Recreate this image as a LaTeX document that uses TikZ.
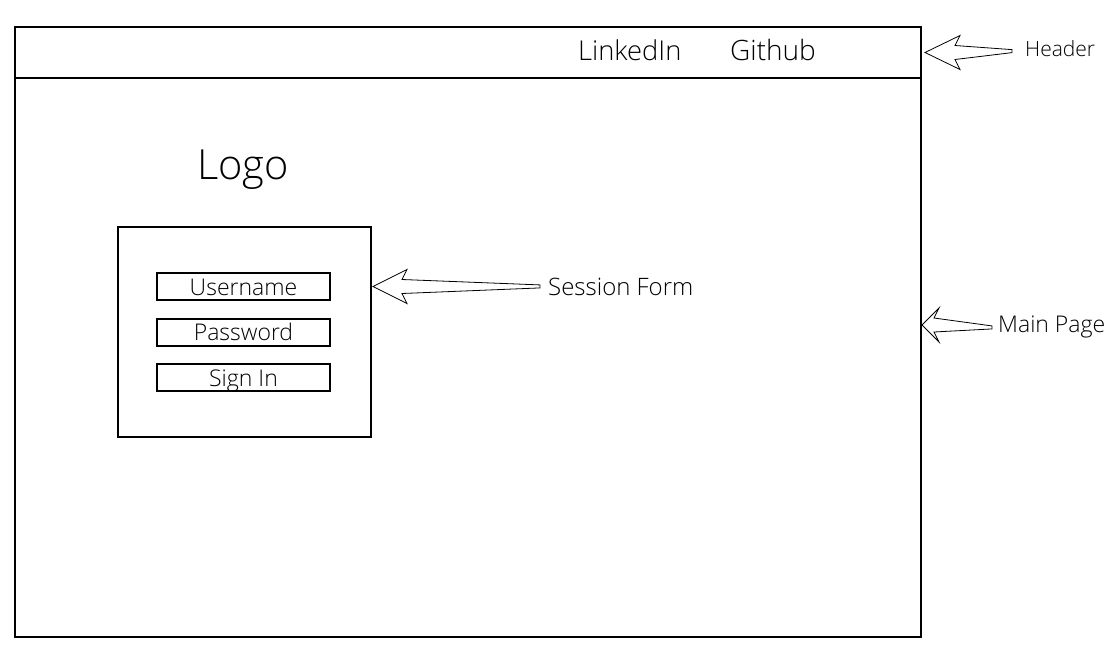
\documentclass[tikz,border=0pt]{standalone}
\usepackage{fontspec}
\setmainfont{Open Sans}[UprightFont=* Light]
\usetikzlibrary{calc}
\usetikzlibrary{positioning}

% hollow block arrow: tip, tail, head length
\newcommand{\blockarrow}[3]{%
	\draw [callout] (#1) -- ($(#1)+(#3,-17)$) -- ($(#1)+(#3-5,-7)$)
		-- ($(#2)+(0,-1.5)$) -- ($(#2)+(0,1.5)$)
		-- ($(#1)+(#3-5,7)$) -- ($(#1)+(#3,17)$) -- cycle;}

\begin{document}
\begin{tikzpicture}[
		x=1pt,y=-1pt,
		frame/.style={draw=black,line width=2pt,rectangle,inner sep=0pt},
		field/.style={frame,minimum width=173pt,minimum height=27pt,text height=17.5pt,text depth=0pt,font=\fontsize{23}{27}\selectfont},
		lbl/.style={inner sep=0pt,font=\fontsize{23}{27}\selectfont},
		callout/.style={draw=black,line width=0.8pt,fill=white,line join=miter}
	]
		\useasboundingbox (0,0) rectangle (1111,654);

		\node [frame,minimum width=906pt,minimum height=610pt] (page) at (468,332) {};
		\node [frame,minimum width=906pt,minimum height=51pt] (header) at (468,52.5) {};
		\node [lbl,anchor=base west,font=\fontsize{27.3}{32}\selectfont] (linkedin) at (578,60) {LinkedIn};
		\node [lbl,anchor=base west,font=\fontsize{28}{33}\selectfont] (github) at (730,60) {Github};

		\node [lbl,anchor=base,font=\fontsize{41.5}{48}\selectfont] (logo) at (243,179) {Logo};
		\node [frame,minimum width=253pt,minimum height=210pt] (form) at (244.5,332) {};
		\node [field] (username) at (243.5,286.5) {Username};
		\node [field,below=16.5pt of username] (password) {Password};
		\node [field,below=16.5pt of password] (signin) {Sign In};

		\node [lbl,anchor=base west,font=\fontsize{21}{25}\selectfont] (header_lbl) at (1025,56) {Header};
		\node [lbl,anchor=base west,font=\fontsize{24}{28}\selectfont] (form_lbl) at (548,295) {Session Form};
		\node [lbl,anchor=base west] (page_lbl) at (998,332) {Main Page};

		\coordinate (header_tail) at ($(header_lbl.west)+(-13,3)$);
		\coordinate (form_tail) at ($(form_lbl.west)+(-8,0)$);
		\coordinate (page_tail) at ($(page_lbl.west)+(-6,1)$);

		\blockarrow{$(header.east)+(3,0)$}{header_tail}{35}
		\blockarrow{$(form.east |- username)+(1,0)$}{form_tail}{34}
		\blockarrow{$(page.east)+(0,-7)$}{page_tail}{17}
	\end{tikzpicture}
\end{document}
